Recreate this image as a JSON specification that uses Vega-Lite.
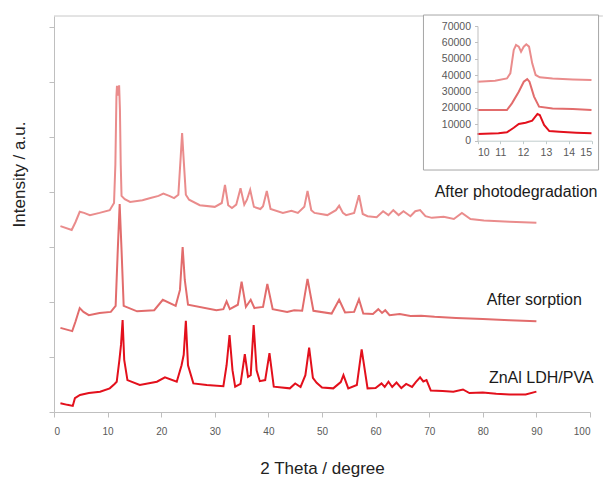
{
  "$schema": "https://vega.github.io/schema/vega-lite/v6.json",
  "width": 536,
  "height": 396,
  "autosize": {"type": "none"},
  "padding": {"left": 54, "top": 16, "right": 13, "bottom": 70},
  "background": "white",
  "config": {"font": "Liberation Sans", "view": {"stroke": null}},
  "datasets": {
    "main": [
      {"series": "After photodegradation", "theta": 1.2, "intensity": 33800},
      {"series": "After photodegradation", "theta": 3.3, "intensity": 33100},
      {"series": "After photodegradation", "theta": 4.0, "intensity": 34500},
      {"series": "After photodegradation", "theta": 4.8, "intensity": 36400},
      {"series": "After photodegradation", "theta": 5.6, "intensity": 36200},
      {"series": "After photodegradation", "theta": 6.7, "intensity": 35800},
      {"series": "After photodegradation", "theta": 8.5, "intensity": 36200},
      {"series": "After photodegradation", "theta": 10.4, "intensity": 36700},
      {"series": "After photodegradation", "theta": 11.2, "intensity": 38000},
      {"series": "After photodegradation", "theta": 11.45, "intensity": 45000},
      {"series": "After photodegradation", "theta": 11.65, "intensity": 57500},
      {"series": "After photodegradation", "theta": 11.75, "intensity": 59300},
      {"series": "After photodegradation", "theta": 11.9, "intensity": 57500},
      {"series": "After photodegradation", "theta": 12.05, "intensity": 58700},
      {"series": "After photodegradation", "theta": 12.15, "intensity": 59400},
      {"series": "After photodegradation", "theta": 12.3, "intensity": 55000},
      {"series": "After photodegradation", "theta": 12.45, "intensity": 45000},
      {"series": "After photodegradation", "theta": 12.6, "intensity": 39300},
      {"series": "After photodegradation", "theta": 13.2, "intensity": 38700},
      {"series": "After photodegradation", "theta": 14.2, "intensity": 38200},
      {"series": "After photodegradation", "theta": 16.5, "intensity": 38500},
      {"series": "After photodegradation", "theta": 18.0, "intensity": 38900},
      {"series": "After photodegradation", "theta": 19.5, "intensity": 39300},
      {"series": "After photodegradation", "theta": 20.4, "intensity": 39700},
      {"series": "After photodegradation", "theta": 21.5, "intensity": 39300},
      {"series": "After photodegradation", "theta": 22.4, "intensity": 38900},
      {"series": "After photodegradation", "theta": 23.2, "intensity": 39500},
      {"series": "After photodegradation", "theta": 23.6, "intensity": 45800},
      {"series": "After photodegradation", "theta": 23.9, "intensity": 50700},
      {"series": "After photodegradation", "theta": 24.2, "intensity": 45800},
      {"series": "After photodegradation", "theta": 24.6, "intensity": 39500},
      {"series": "After photodegradation", "theta": 25.2, "intensity": 38600},
      {"series": "After photodegradation", "theta": 27.2, "intensity": 37600},
      {"series": "After photodegradation", "theta": 30.0, "intensity": 37300},
      {"series": "After photodegradation", "theta": 31.3, "intensity": 38000},
      {"series": "After photodegradation", "theta": 31.9, "intensity": 41300},
      {"series": "After photodegradation", "theta": 32.5, "intensity": 37600},
      {"series": "After photodegradation", "theta": 33.2, "intensity": 37100},
      {"series": "After photodegradation", "theta": 34.0, "intensity": 37700},
      {"series": "After photodegradation", "theta": 34.8, "intensity": 40700},
      {"series": "After photodegradation", "theta": 35.5, "intensity": 37700},
      {"series": "After photodegradation", "theta": 36.0, "intensity": 38600},
      {"series": "After photodegradation", "theta": 36.6, "intensity": 40400},
      {"series": "After photodegradation", "theta": 37.3, "intensity": 37300},
      {"series": "After photodegradation", "theta": 38.5, "intensity": 36900},
      {"series": "After photodegradation", "theta": 39.0, "intensity": 37400},
      {"series": "After photodegradation", "theta": 39.7, "intensity": 40200},
      {"series": "After photodegradation", "theta": 40.4, "intensity": 36900},
      {"series": "After photodegradation", "theta": 42.7, "intensity": 36200},
      {"series": "After photodegradation", "theta": 44.3, "intensity": 36600},
      {"series": "After photodegradation", "theta": 45.5, "intensity": 36200},
      {"series": "After photodegradation", "theta": 46.7, "intensity": 37300},
      {"series": "After photodegradation", "theta": 47.3, "intensity": 40200},
      {"series": "After photodegradation", "theta": 48.0, "intensity": 36700},
      {"series": "After photodegradation", "theta": 48.6, "intensity": 36200},
      {"series": "After photodegradation", "theta": 51.0, "intensity": 35800},
      {"series": "After photodegradation", "theta": 52.6, "intensity": 36700},
      {"series": "After photodegradation", "theta": 53.2, "intensity": 37500},
      {"series": "After photodegradation", "theta": 53.9, "intensity": 36200},
      {"series": "After photodegradation", "theta": 54.5, "intensity": 35800},
      {"series": "After photodegradation", "theta": 56.0, "intensity": 36200},
      {"series": "After photodegradation", "theta": 56.9, "intensity": 39400},
      {"series": "After photodegradation", "theta": 57.6, "intensity": 36000},
      {"series": "After photodegradation", "theta": 58.5, "intensity": 35600},
      {"series": "After photodegradation", "theta": 60.2, "intensity": 35400},
      {"series": "After photodegradation", "theta": 61.4, "intensity": 36500},
      {"series": "After photodegradation", "theta": 62.4, "intensity": 35800},
      {"series": "After photodegradation", "theta": 63.3, "intensity": 36700},
      {"series": "After photodegradation", "theta": 64.3, "intensity": 35800},
      {"series": "After photodegradation", "theta": 65.2, "intensity": 36500},
      {"series": "After photodegradation", "theta": 66.5, "intensity": 35600},
      {"series": "After photodegradation", "theta": 67.4, "intensity": 36500},
      {"series": "After photodegradation", "theta": 68.3, "intensity": 36700},
      {"series": "After photodegradation", "theta": 69.3, "intensity": 35600},
      {"series": "After photodegradation", "theta": 70.5, "intensity": 35300},
      {"series": "After photodegradation", "theta": 72.7, "intensity": 35500},
      {"series": "After photodegradation", "theta": 74.6, "intensity": 35100},
      {"series": "After photodegradation", "theta": 76.1, "intensity": 36200},
      {"series": "After photodegradation", "theta": 77.7, "intensity": 35100},
      {"series": "After photodegradation", "theta": 80.2, "intensity": 34800},
      {"series": "After photodegradation", "theta": 85.0, "intensity": 34600},
      {"series": "After photodegradation", "theta": 90.0, "intensity": 34400},

      {"series": "After sorption", "theta": 1.2, "intensity": 15300},
      {"series": "After sorption", "theta": 3.4, "intensity": 14700},
      {"series": "After sorption", "theta": 4.0, "intensity": 16400},
      {"series": "After sorption", "theta": 4.8, "intensity": 18900},
      {"series": "After sorption", "theta": 5.5, "intensity": 18200},
      {"series": "After sorption", "theta": 6.5, "intensity": 17600},
      {"series": "After sorption", "theta": 8.5, "intensity": 18000},
      {"series": "After sorption", "theta": 10.6, "intensity": 18200},
      {"series": "After sorption", "theta": 11.5, "intensity": 19300},
      {"series": "After sorption", "theta": 11.9, "intensity": 29500},
      {"series": "After sorption", "theta": 12.25, "intensity": 37800},
      {"series": "After sorption", "theta": 12.6, "intensity": 29500},
      {"series": "After sorption", "theta": 13.0, "intensity": 19300},
      {"series": "After sorption", "theta": 15.5, "intensity": 18300},
      {"series": "After sorption", "theta": 18.7, "intensity": 18500},
      {"series": "After sorption", "theta": 20.3, "intensity": 20400},
      {"series": "After sorption", "theta": 22.7, "intensity": 19300},
      {"series": "After sorption", "theta": 23.5, "intensity": 22200},
      {"series": "After sorption", "theta": 24.0, "intensity": 30000},
      {"series": "After sorption", "theta": 24.4, "intensity": 24000},
      {"series": "After sorption", "theta": 25.0, "intensity": 19500},
      {"series": "After sorption", "theta": 30.3, "intensity": 18500},
      {"series": "After sorption", "theta": 31.6, "intensity": 18700},
      {"series": "After sorption", "theta": 32.2, "intensity": 20100},
      {"series": "After sorption", "theta": 32.8, "intensity": 18700},
      {"series": "After sorption", "theta": 34.3, "intensity": 19500},
      {"series": "After sorption", "theta": 35.0, "intensity": 23700},
      {"series": "After sorption", "theta": 35.8, "intensity": 19100},
      {"series": "After sorption", "theta": 36.7, "intensity": 20400},
      {"series": "After sorption", "theta": 37.4, "intensity": 18900},
      {"series": "After sorption", "theta": 39.0, "intensity": 19100},
      {"series": "After sorption", "theta": 39.8, "intensity": 23300},
      {"series": "After sorption", "theta": 40.8, "intensity": 18700},
      {"series": "After sorption", "theta": 43.5, "intensity": 18200},
      {"series": "After sorption", "theta": 44.8, "intensity": 18500},
      {"series": "After sorption", "theta": 46.3, "intensity": 18400},
      {"series": "After sorption", "theta": 47.3, "intensity": 24200},
      {"series": "After sorption", "theta": 48.4, "intensity": 18400},
      {"series": "After sorption", "theta": 51.8, "intensity": 17900},
      {"series": "After sorption", "theta": 53.2, "intensity": 20400},
      {"series": "After sorption", "theta": 54.3, "intensity": 18100},
      {"series": "After sorption", "theta": 56.0, "intensity": 18200},
      {"series": "After sorption", "theta": 56.9, "intensity": 20500},
      {"series": "After sorption", "theta": 57.7, "intensity": 17900},
      {"series": "After sorption", "theta": 59.5, "intensity": 17800},
      {"series": "After sorption", "theta": 60.5, "intensity": 18700},
      {"series": "After sorption", "theta": 61.2, "intensity": 18000},
      {"series": "After sorption", "theta": 61.8, "intensity": 18500},
      {"series": "After sorption", "theta": 62.6, "intensity": 17600},
      {"series": "After sorption", "theta": 64.5, "intensity": 17800},
      {"series": "After sorption", "theta": 66.5, "intensity": 17450},
      {"series": "After sorption", "theta": 68.5, "intensity": 17500},
      {"series": "After sorption", "theta": 71.0, "intensity": 17300},
      {"series": "After sorption", "theta": 75.0, "intensity": 17100},
      {"series": "After sorption", "theta": 80.0, "intensity": 16900},
      {"series": "After sorption", "theta": 85.0, "intensity": 16700},
      {"series": "After sorption", "theta": 90.0, "intensity": 16500},

      {"series": "ZnAl LDH/PVA", "theta": 1.2, "intensity": 1600},
      {"series": "ZnAl LDH/PVA", "theta": 2.5, "intensity": 1300},
      {"series": "ZnAl LDH/PVA", "theta": 3.5, "intensity": 1100},
      {"series": "ZnAl LDH/PVA", "theta": 3.9, "intensity": 2500},
      {"series": "ZnAl LDH/PVA", "theta": 4.85, "intensity": 3100},
      {"series": "ZnAl LDH/PVA", "theta": 6.5, "intensity": 3450},
      {"series": "ZnAl LDH/PVA", "theta": 8.6, "intensity": 3700},
      {"series": "ZnAl LDH/PVA", "theta": 10.4, "intensity": 4300},
      {"series": "ZnAl LDH/PVA", "theta": 11.3, "intensity": 5100},
      {"series": "ZnAl LDH/PVA", "theta": 11.7, "intensity": 5500},
      {"series": "ZnAl LDH/PVA", "theta": 12.2, "intensity": 9450},
      {"series": "ZnAl LDH/PVA", "theta": 12.5, "intensity": 12200},
      {"series": "ZnAl LDH/PVA", "theta": 12.8, "intensity": 16700},
      {"series": "ZnAl LDH/PVA", "theta": 13.1, "intensity": 9450},
      {"series": "ZnAl LDH/PVA", "theta": 13.7, "intensity": 5800},
      {"series": "ZnAl LDH/PVA", "theta": 16.0, "intensity": 4900},
      {"series": "ZnAl LDH/PVA", "theta": 19.2, "intensity": 5500},
      {"series": "ZnAl LDH/PVA", "theta": 20.7, "intensity": 6300},
      {"series": "ZnAl LDH/PVA", "theta": 22.9, "intensity": 5500},
      {"series": "ZnAl LDH/PVA", "theta": 23.8, "intensity": 8500},
      {"series": "ZnAl LDH/PVA", "theta": 24.2, "intensity": 10400},
      {"series": "ZnAl LDH/PVA", "theta": 24.6, "intensity": 16600},
      {"series": "ZnAl LDH/PVA", "theta": 25.0, "intensity": 8500},
      {"series": "ZnAl LDH/PVA", "theta": 26.0, "intensity": 5200},
      {"series": "ZnAl LDH/PVA", "theta": 28.5, "intensity": 4900},
      {"series": "ZnAl LDH/PVA", "theta": 31.6, "intensity": 4700},
      {"series": "ZnAl LDH/PVA", "theta": 32.2, "intensity": 8500},
      {"series": "ZnAl LDH/PVA", "theta": 32.75, "intensity": 14000},
      {"series": "ZnAl LDH/PVA", "theta": 33.3, "intensity": 7600},
      {"series": "ZnAl LDH/PVA", "theta": 33.8, "intensity": 4600},
      {"series": "ZnAl LDH/PVA", "theta": 34.8, "intensity": 5100},
      {"series": "ZnAl LDH/PVA", "theta": 35.6, "intensity": 10500},
      {"series": "ZnAl LDH/PVA", "theta": 36.2, "intensity": 6400},
      {"series": "ZnAl LDH/PVA", "theta": 36.7, "intensity": 6700},
      {"series": "ZnAl LDH/PVA", "theta": 37.25, "intensity": 15800},
      {"series": "ZnAl LDH/PVA", "theta": 37.8, "intensity": 7600},
      {"series": "ZnAl LDH/PVA", "theta": 38.4, "intensity": 5600},
      {"series": "ZnAl LDH/PVA", "theta": 39.4, "intensity": 5800},
      {"series": "ZnAl LDH/PVA", "theta": 40.2, "intensity": 10700},
      {"series": "ZnAl LDH/PVA", "theta": 41.0, "intensity": 4600},
      {"series": "ZnAl LDH/PVA", "theta": 44.0, "intensity": 4300},
      {"series": "ZnAl LDH/PVA", "theta": 45.0, "intensity": 5200},
      {"series": "ZnAl LDH/PVA", "theta": 46.0, "intensity": 4550},
      {"series": "ZnAl LDH/PVA", "theta": 46.9, "intensity": 6700},
      {"series": "ZnAl LDH/PVA", "theta": 47.6, "intensity": 11700},
      {"series": "ZnAl LDH/PVA", "theta": 48.3, "intensity": 6200},
      {"series": "ZnAl LDH/PVA", "theta": 49.0, "intensity": 5300},
      {"series": "ZnAl LDH/PVA", "theta": 50.0, "intensity": 4450},
      {"series": "ZnAl LDH/PVA", "theta": 52.1, "intensity": 4300},
      {"series": "ZnAl LDH/PVA", "theta": 53.5, "intensity": 5450},
      {"series": "ZnAl LDH/PVA", "theta": 54.0, "intensity": 6700},
      {"series": "ZnAl LDH/PVA", "theta": 54.9, "intensity": 4300},
      {"series": "ZnAl LDH/PVA", "theta": 56.5, "intensity": 4900},
      {"series": "ZnAl LDH/PVA", "theta": 57.4, "intensity": 11400},
      {"series": "ZnAl LDH/PVA", "theta": 58.5, "intensity": 4300},
      {"series": "ZnAl LDH/PVA", "theta": 60.0, "intensity": 4350},
      {"series": "ZnAl LDH/PVA", "theta": 61.1, "intensity": 5200},
      {"series": "ZnAl LDH/PVA", "theta": 61.7, "intensity": 4550},
      {"series": "ZnAl LDH/PVA", "theta": 62.4, "intensity": 5500},
      {"series": "ZnAl LDH/PVA", "theta": 63.1, "intensity": 4550},
      {"series": "ZnAl LDH/PVA", "theta": 63.9, "intensity": 5350},
      {"series": "ZnAl LDH/PVA", "theta": 64.8, "intensity": 4350},
      {"series": "ZnAl LDH/PVA", "theta": 65.7, "intensity": 5100},
      {"series": "ZnAl LDH/PVA", "theta": 66.8, "intensity": 4550},
      {"series": "ZnAl LDH/PVA", "theta": 67.5, "intensity": 5450},
      {"series": "ZnAl LDH/PVA", "theta": 68.3, "intensity": 6300},
      {"series": "ZnAl LDH/PVA", "theta": 68.9, "intensity": 5550},
      {"series": "ZnAl LDH/PVA", "theta": 69.5, "intensity": 5800},
      {"series": "ZnAl LDH/PVA", "theta": 70.3, "intensity": 3900},
      {"series": "ZnAl LDH/PVA", "theta": 72.5, "intensity": 3800},
      {"series": "ZnAl LDH/PVA", "theta": 74.5, "intensity": 3700},
      {"series": "ZnAl LDH/PVA", "theta": 76.3, "intensity": 4100},
      {"series": "ZnAl LDH/PVA", "theta": 77.5, "intensity": 3450},
      {"series": "ZnAl LDH/PVA", "theta": 80.0, "intensity": 3550},
      {"series": "ZnAl LDH/PVA", "theta": 82.5, "intensity": 3300},
      {"series": "ZnAl LDH/PVA", "theta": 85.0, "intensity": 3200},
      {"series": "ZnAl LDH/PVA", "theta": 88.0, "intensity": 3200},
      {"series": "ZnAl LDH/PVA", "theta": 90.0, "intensity": 3700}
    ],
    "inset": [
      {"series": "After photodegradation", "theta": 10, "intensity": 36000},
      {"series": "After photodegradation", "theta": 10.77, "intensity": 36600},
      {"series": "After photodegradation", "theta": 11.29, "intensity": 38000},
      {"series": "After photodegradation", "theta": 11.44, "intensity": 41100},
      {"series": "After photodegradation", "theta": 11.59, "intensity": 55400},
      {"series": "After photodegradation", "theta": 11.69, "intensity": 58400},
      {"series": "After photodegradation", "theta": 11.81, "intensity": 57400},
      {"series": "After photodegradation", "theta": 11.91, "intensity": 54300},
      {"series": "After photodegradation", "theta": 12.03, "intensity": 57400},
      {"series": "After photodegradation", "theta": 12.14, "intensity": 58800},
      {"series": "After photodegradation", "theta": 12.26, "intensity": 57400},
      {"series": "After photodegradation", "theta": 12.4, "intensity": 47200},
      {"series": "After photodegradation", "theta": 12.55, "intensity": 40100},
      {"series": "After photodegradation", "theta": 12.73, "intensity": 38700},
      {"series": "After photodegradation", "theta": 13.29, "intensity": 38000},
      {"series": "After photodegradation", "theta": 14.18, "intensity": 37400},
      {"series": "After photodegradation", "theta": 15, "intensity": 37000},
      {"series": "After sorption", "theta": 10, "intensity": 18700},
      {"series": "After sorption", "theta": 11.29, "intensity": 18700},
      {"series": "After sorption", "theta": 11.51, "intensity": 22800},
      {"series": "After sorption", "theta": 11.81, "intensity": 29900},
      {"series": "After sorption", "theta": 12.03, "intensity": 36000},
      {"series": "After sorption", "theta": 12.18, "intensity": 37600},
      {"series": "After sorption", "theta": 12.28, "intensity": 36000},
      {"series": "After sorption", "theta": 12.48, "intensity": 26900},
      {"series": "After sorption", "theta": 12.7, "intensity": 20800},
      {"series": "After sorption", "theta": 13.29, "intensity": 19700},
      {"series": "After sorption", "theta": 14.18, "intensity": 19300},
      {"series": "After sorption", "theta": 15, "intensity": 18700},
      {"series": "ZnAl LDH/PVA", "theta": 10, "intensity": 4100},
      {"series": "ZnAl LDH/PVA", "theta": 10.92, "intensity": 4500},
      {"series": "ZnAl LDH/PVA", "theta": 11.29, "intensity": 5100},
      {"series": "ZnAl LDH/PVA", "theta": 11.59, "intensity": 7900},
      {"series": "ZnAl LDH/PVA", "theta": 11.81, "intensity": 10200},
      {"series": "ZnAl LDH/PVA", "theta": 12.11, "intensity": 11000},
      {"series": "ZnAl LDH/PVA", "theta": 12.4, "intensity": 12200},
      {"series": "ZnAl LDH/PVA", "theta": 12.63, "intensity": 16300},
      {"series": "ZnAl LDH/PVA", "theta": 12.73, "intensity": 15700},
      {"series": "ZnAl LDH/PVA", "theta": 12.92, "intensity": 9600},
      {"series": "ZnAl LDH/PVA", "theta": 13.15, "intensity": 5900},
      {"series": "ZnAl LDH/PVA", "theta": 13.59, "intensity": 5500},
      {"series": "ZnAl LDH/PVA", "theta": 14.33, "intensity": 4900},
      {"series": "ZnAl LDH/PVA", "theta": 15, "intensity": 4500}
    ]
  },
  "layer": [
    {
      "layer": [
        {
          "data": {"name": "main"},
          "mark": {"type": "line", "strokeWidth": 2},
          "encoding": {
            "x": {
              "field": "theta", "type": "quantitative",
              "scale": {"domain": [0, 100], "nice": false, "zero": false},
              "axis": {
                "orient": "bottom",
                "values": [0, 10, 20, 30, 40, 50, 60, 70, 80, 90, 100],
                "format": "d",
                "grid": false,
                "title": "2 Theta / degree",
                "titleFont": "Liberation Sans",
                "titleFontSize": 17,
                "titleFontWeight": "normal",
                "titleColor": "#222222",
                "titlePadding": 24,
                "labelFontSize": 10,
                "labelColor": "#595959",
                "labelPadding": 9,
                "tickSize": 5,
                "domainColor": "#bfbfbf",
                "tickColor": "#bfbfbf"
              }
            },
            "y": {
              "field": "intensity", "type": "quantitative",
              "scale": {"domain": [0, 72000], "nice": false},
              "axis": {
                "orient": "left",
                "values": [0, 10000, 20000, 30000, 40000, 50000, 60000, 70000],
                "labels": false,
                "grid": false,
                "tickSize": 5,
                "domainColor": "#bfbfbf",
                "tickColor": "#bfbfbf",
                "title": "Intensity / a.u.",
                "titleFont": "Liberation Sans",
                "titleFontSize": 17,
                "titleFontWeight": "normal",
                "titleColor": "#222222",
                "titleX": -35,
                "titleY": 158,
                "titleAlign": "center",
                "titleBaseline": "middle"
              }
            },
            "color": {
              "field": "series", "type": "nominal",
              "scale": {
                "domain": ["After photodegradation", "After sorption", "ZnAl LDH/PVA"],
                "range": ["#ea8c8c", "#e26c6c", "#e3101c"]
              },
              "legend": null
            }
          }
        },
        {
          "data": {"values": [{}]},
          "mark": {"type": "rule", "color": "#c8c8c8", "strokeWidth": 1},
          "encoding": {
            "x": {"datum": 0, "type": "quantitative"},
            "x2": {"datum": 102.4},
            "y": {"datum": 72000, "type": "quantitative"}
          }
        },
        {
          "data": {"values": [{}]},
          "mark": {"type": "text", "font": "Liberation Sans", "fontSize": 16, "align": "center", "baseline": "middle", "color": "#1a1a1a"},
          "encoding": {
            "x": {"datum": 86.2, "type": "quantitative"},
            "y": {"datum": 40000, "type": "quantitative"},
            "text": {"value": "After photodegradation"}
          }
        },
        {
          "data": {"values": [{}]},
          "mark": {"type": "text", "font": "Liberation Sans", "fontSize": 16, "align": "center", "baseline": "middle", "color": "#1a1a1a"},
          "encoding": {
            "x": {"datum": 89.6, "type": "quantitative"},
            "y": {"datum": 20400, "type": "quantitative"},
            "text": {"value": "After sorption"}
          }
        },
        {
          "data": {"values": [{}]},
          "mark": {"type": "text", "font": "Liberation Sans", "fontSize": 16, "align": "center", "baseline": "middle", "color": "#1a1a1a"},
          "encoding": {
            "x": {"datum": 90.9, "type": "quantitative"},
            "y": {"datum": 6200, "type": "quantitative"},
            "text": {"value": "ZnAl LDH/PVA"}
          }
        }
      ]
    },
    {
      "layer": [
        {
          "data": {"values": [{}]},
          "mark": {"type": "rect", "fill": "white", "stroke": "#a6a6a6", "strokeWidth": 1},
          "encoding": {
            "x": {"datum": 7.63, "type": "quantitative"},
            "x2": {"datum": 15.31},
            "y": {"datum": 76700, "type": "quantitative"},
            "y2": {"datum": -17900}
          }
        },
        {
          "data": {"name": "inset"},
          "mark": {"type": "line", "strokeWidth": 2},
          "encoding": {
            "x": {
              "field": "theta", "type": "quantitative",
              "scale": {"domain": [10, 15], "range": [423.5, 537.5], "nice": false, "zero": false},
              "axis": {
                "orient": "bottom",
                "offset": -271.3,
                "zindex": 2,
                "values": [10, 11, 12, 13, 14, 15],
                "format": "d",
                "labelOverlap": false,
                "grid": false,
                "title": null,
                "labelFontSize": 10.5,
                "labelColor": "#595959",
                "labelPadding": 4,
                "tickSize": 3,
                "domainColor": "#c0cccc",
                "tickColor": "#c0cccc"
              }
            },
            "y": {
              "field": "intensity", "type": "quantitative",
              "scale": {"domain": [0, 70000], "range": [124.7, 10], "nice": false},
              "axis": {
                "orient": "left",
                "offset": -423.5,
                "zindex": 2,
                "values": [0, 10000, 20000, 30000, 40000, 50000, 60000, 70000],
                "format": "d",
                "labelOverlap": false,
                "grid": false,
                "title": null,
                "labelFontSize": 10.5,
                "labelColor": "#595959",
                "labelPadding": 4,
                "tickSize": 3,
                "domainColor": "#bfbfbf",
                "tickColor": "#bfbfbf"
              }
            },
            "color": {
              "field": "series", "type": "nominal",
              "scale": {
                "domain": ["After photodegradation", "After sorption", "ZnAl LDH/PVA"],
                "range": ["#ea8c8c", "#e26c6c", "#e3101c"]
              },
              "legend": null
            }
          }
        }
      ]
    }
  ],
  "resolve": {"scale": {"x": "independent", "y": "independent", "color": "independent"}}
}
